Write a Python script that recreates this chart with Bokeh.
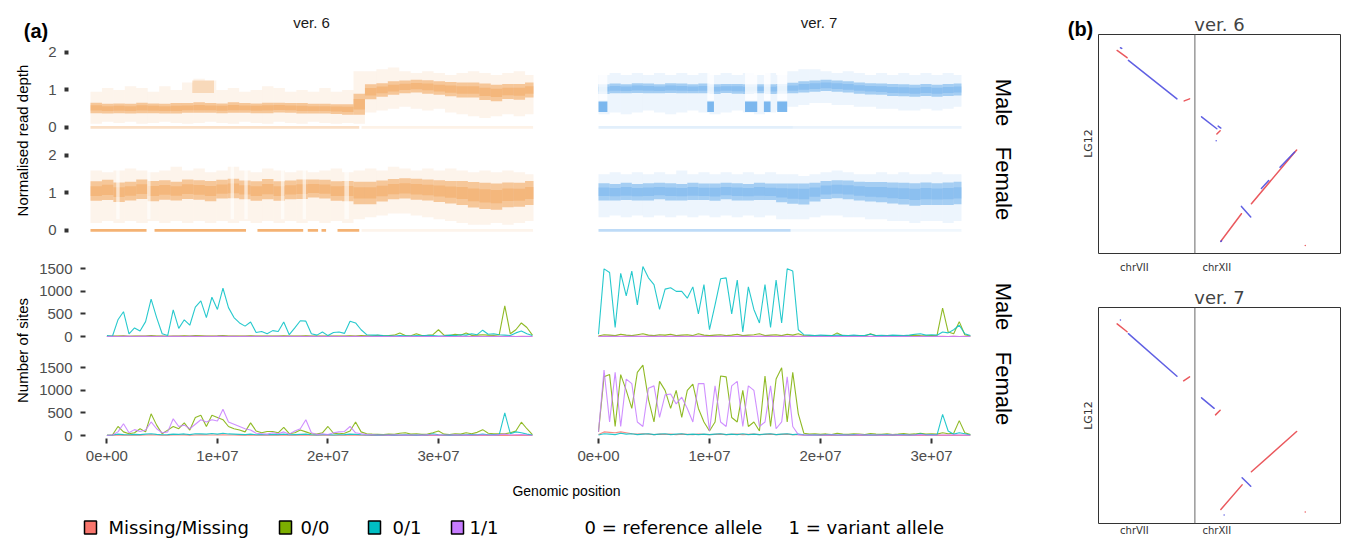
import math
from bokeh.plotting import figure
from bokeh.layouts import row, column
from bokeh.models import Range1d, FixedTicker, Span, Spacer
from bokeh.core.properties import value
from bokeh.embed import file_html
from bokeh.resources import INLINE

FONT = "Liberation Sans"
LEG_FONT = "DejaVu Sans"

# ---------------- data ----------------
WINDOW_MB = 0.5          # window size of the genotype counts
RD_BIN_MB = 1.0          # bin size of the read-depth summaries
LEN_V6 = 38.74           # chromosome length in Mb (ver. 6)
LEN_V7 = 32.7            # read-depth extent in Mb (ver. 7)

GENOTYPES = ["Missing/Missing", "0/0", "0/1", "1/1"]
GT_COLORS = ["#F8766D", "#7CAE00", "#00BFC4", "#C77CFF"]
GENOME_TICKS = [0, 10000000, 20000000, 30000000]
GENOME_TICK_LABELS = ["0e+00", "1e+07", "2e+07", "3e+07"]
DEPTH_TICKS = [0, 1, 2]
SITES_TICKS = [0, 500, 1000, 1500]

# --- number of sites, ver. 6, male (0.5 Mb windows)
m6_miss = [2,3,2,4,3,2,3,5,4,3, 2,3,4,3,5,4,3,2,4,3, 5,4,3,2,3,2,3,4,2,3, 2,3,4,3,2,3,4,2,3,2,
           3,4,3,2,3,4,3,2,3,2, 1,2,1,2,1,2,1,2,3,2, 1,2,1,2,1,2,3,2,1,2, 1,2,3,2,1,2,1,2]
m6_00 = [5,8,10,15,5,8,10,12,20,10, 8,5,12,10,15,8,20,15,10,12, 15,20,10,8,12,10,15,10,8,12,
         10,8,15,10,12,10,15,10,8,10, 12,8,10,12,15,10,20,15,10,25, 15,20,30,80,20,15,60,20,25,40,
         150,30,20,50,30,80,25,30,40,30, 25,40,680,60,150,300,200,30]
m6_01 = [20,5,370,550,60,190,120,330,830,420, 60,20,590,180,370,250,650,790,420,870,
         600,1070,640,420,300,230,320,90,110,60, 130,110,320,40,190,350,340,60,30,100,
         20,90,100,70,340,300,150,40,30,30, 20,15,10,20,15,10,20,15,25,20,
         10,15,30,20,40,30,60,40,140,50, 60,40,30,20,80,120,60,20]
m6_11 = [1,2,1,3,2,1,2,3,2,1, 2,1,3,2,1,2,3,1,2,1, 3,2,1,2,1,2,1,2,1,2, 1,2,1,2,1,2,1,2,1,2,
         1,2,1,2,1,2,1,2,1,2, 1,1,2,1,1,2,1,1,2,1, 1,2,1,1,2,1,1,2,1,1, 2,1,1,2,1,1,2,1]
# --- ver. 6, female
f6_miss = [3,5,10,8,6,12,8,10,15,10, 6,8,12,10,14,8,12,15,10,12, 10,18,12,10,8,6,8,5,6,5,
           6,5,8,5,6,8,10,5,4,5, 6,4,5,6,8,6,5,4,3,3, 2,3,2,3,2,3,2,3,4,3, 2,3,2,3,2,3,4,3,2,3,
           2,3,4,3,2,3,2,2]
f6_00 = [5,10,200,80,40,60,150,80,480,230, 40,120,200,150,280,120,400,450,200,450,
         400,350,200,150,120,80,280,100,60,90, 90,60,180,40,60,120,80,40,30,60,
         200,50,40,50,100,300,80,40,30,25, 20,30,25,50,60,30,40,25,30,60,
         100,30,20,40,30,60,40,70,130,50, 40,35,40,60,100,295,150,20]
f6_01 = [5,10,30,20,15,25,20,30,40,25, 15,20,30,25,35,20,40,35,30,45, 30,50,35,30,25,20,30,15,20,15,
         25,20,30,15,20,25,30,15,10,15, 20,10,15,20,30,25,15,10,10,8, 10,12,8,10,15,10,8,10,12,40,
         15,10,8,12,10,15,20,15,30,15, 20,20,500,40,80,60,30,10]
f6_11 = [0,10,80,260,60,130,90,120,300,150, 60,80,370,200,230,150,250,350,300,350,
         320,580,300,250,200,150,120,50,40,30, 60,40,80,30,100,150,350,60,20,40,
         20,60,80,90,200,60,40,20,15,10, 10,8,15,10,8,12,10,8,15,10,
         8,12,10,15,10,8,12,10,15,10, 8,20,30,10,15,20,10,5]
# --- ver. 7, male
m7_miss = [3,4,3,5,4,3,4,5,3,4, 3,4,5,3,4,3,4,5,3,4, 3,4,3,5,4,3,4,3,4,5, 3,4,3,4,5,3,4,3,2,2,
           2,1,2,1,2,1,2,1,2,1, 2,1,2,1,2,1,2,1,2,1, 2,1,2,1,2,1,2,1]
m7_00 = [10,40,30,20,50,30,20,40,60,30, 20,40,30,50,20,30,40,20,60,30, 20,30,40,20,30,50,20,30,40,60,
         20,30,40,20,50,30,60,20,15,10, 15,20,10,80,15,10,20,15,10,60, 15,10,20,15,10,20,15,30,20,15,
         20,25,630,100,60,330,40,10]
m7_01 = [50,1500,1420,200,1400,900,1450,700,1550,1300, 1150,600,1050,1080,1000,1000,850,1100,500,1150,
         150,700,1280,1300,500,1250,100,1100,600,300, 1150,200,1250,300,1500,1450,150,40,30,20,
         30,25,20,30,25,20,30,20,25,50, 20,25,20,30,25,20,30,50,60,30, 40,30,100,80,150,250,60,20]
m7_11 = [1,2,3,2,1,2,3,2,1,2, 3,2,1,2,3,2,1,2,3,2, 1,2,3,2,1,2,3,2,1,2, 3,2,1,2,3,2,1,2,1,1,
         2,1,1,2,1,1,2,1,1,2, 1,1,2,1,1,2,1,1,2,1, 1,2,1,1,2,1,1,2]
# --- ver. 7, female
f7_miss = [20,80,70,60,80,60,40,30,40,30, 20,30,25,30,20,30,25,20,30,25, 20,25,30,20,25,30,20,25,30,20,
           25,30,20,25,30,20,15,8,5,4, 3,4,3,4,3,4,3,4,3,4, 3,4,3,4,3,4,3,4,3,4, 3,4,3,4,3,4,3,2]
f7_00 = [80,1300,1350,200,1350,1000,600,1400,1560,800, 300,1200,1000,600,1000,400,1000,1140,600,300,
         100,300,1320,1300,400,300,1000,200,300,100, 1320,200,1250,1500,300,1400,480,50,30,40,
         25,35,20,50,30,25,40,30,20,45, 30,25,40,20,30,45,25,35,50,30, 40,30,60,40,50,330,60,20]
f7_01 = [10,40,30,20,50,30,40,20,30,40, 20,30,40,20,30,40,20,30,20,30, 20,30,40,20,30,20,40,20,30,20,
         30,40,20,30,40,20,30,15,10,15, 10,15,20,10,15,10,20,15,10,15, 10,15,20,10,15,20,10,15,40,15,
         20,15,470,100,30,60,40,10]
f7_11 = [80,1450,300,1400,200,1250,1150,300,200,1050, 1100,400,900,920,700,850,600,300,1150,1150,
         100,1100,300,200,1100,1200,200,1100,1000,200, 300,1100,150,300,1300,200,20,10,8,10,
         12,8,15,10,8,12,10,20,8,10, 12,8,10,15,8,10,12,8,20,10, 8,12,10,8,15,10,8,5]

# --- normalised read depth, 1 Mb bins: median, core half-width, sparse low, sparse high
m6_rd_mid = [0.52,0.50,0.51,0.50,0.52,0.51,0.50,0.51,0.52,0.53,0.52,0.51,0.53,0.52,0.51,0.52,0.53,0.52,0.51,0.50,
             0.50,0.49,0.48,0.62,0.95,1.00,1.05,1.08,1.10,1.08,1.05,1.02,1.00,1.00,0.95,0.92,0.96,0.95,1.00]
m6_rd_sd = [0.14,0.13,0.13,0.13,0.14,0.13,0.13,0.14,0.13,0.14,0.13,0.13,0.14,0.13,0.13,0.14,0.13,0.13,0.14,0.13,
            0.13,0.13,0.14,0.28,0.20,0.18,0.18,0.17,0.17,0.18,0.18,0.19,0.20,0.20,0.22,0.22,0.20,0.21,0.20]
m6_rd_lo = [0.10,0.15,0.12,0.15,0.10,0.12,0.15,0.12,0.10,0.12,0.15,0.12,0.10,0.15,0.12,0.10,0.15,0.12,0.10,0.15,
            0.12,0.10,0.12,0.10,0.40,0.45,0.50,0.55,0.50,0.45,0.50,0.40,0.35,0.30,0.25,0.30,0.35,0.30,0.35]
m6_rd_hi = [0.95,1.05,1.00,1.10,1.05,0.95,1.10,1.00,1.20,1.30,1.25,1.00,1.05,0.95,1.00,1.10,1.05,0.95,1.00,0.95,
            1.05,0.95,1.00,1.50,1.50,1.55,1.60,1.50,1.45,1.50,1.45,1.40,1.45,1.50,1.45,1.40,1.45,1.50,1.40]
m6_patch = {"start": [8.9], "end": [10.8], "lo": [0.92], "hi": [1.25]}
m6_zero = {"start": [0.0, 23.7], "end": [23.5, 38.7], "dens": [0.35, 0.15]}

f6_rd_mid = [1.05,1.08,1.02,1.05,1.10,1.05,1.08,1.05,1.10,1.08,1.05,1.10,1.12,1.08,1.05,1.10,1.05,1.08,1.10,1.12,
             1.10,1.05,1.05,1.00,1.00,1.05,1.10,1.12,1.10,1.08,1.05,1.02,1.00,0.95,0.92,0.90,0.95,0.95,1.00]
f6_rd_sd = [0.26,0.27,0.26,0.25,0.26,0.27,0.26,0.25,0.26,0.26,0.27,0.25,0.26,0.25,0.26,0.27,0.26,0.25,0.26,0.24,
            0.25,0.26,0.27,0.30,0.30,0.28,0.27,0.27,0.28,0.28,0.29,0.30,0.32,0.34,0.35,0.35,0.33,0.32,0.32]
f6_rd_lo = [0.20,0.25,0.20,0.25,0.20,0.25,0.20,0.25,0.20,0.25,0.20,0.25,0.20,0.25,0.20,0.25,0.20,0.25,0.20,0.25,
            0.20,0.25,0.20,0.30,0.35,0.40,0.45,0.45,0.40,0.35,0.30,0.25,0.20,0.15,0.15,0.20,0.15,0.20,0.25]
f6_rd_hi = [1.60,1.55,1.60,1.65,1.60,1.55,1.60,1.70,1.60,1.65,1.55,1.60,1.70,1.60,1.55,1.65,1.60,1.55,1.60,1.55,
            1.60,1.65,1.55,1.60,1.65,1.60,1.70,1.65,1.60,1.65,1.60,1.65,1.60,1.55,1.60,1.55,1.60,1.55,1.50]
f6_gaps = {"start": [2.25, 4.95, 12.25, 13.45, 16.65, 18.55, 22.2], "end": [2.55, 5.25, 12.55, 13.75, 16.95, 18.85, 22.6]}
f6_zero = {"start": [0.0, 5.6, 14.6, 19.0, 20.2, 21.6, 23.7], "end": [4.9, 13.6, 18.6, 19.9, 20.6, 23.5, 38.7],
           "dens": [0.85, 0.85, 0.85, 0.85, 0.85, 0.85, 0.12]}

m7_rd_mid = [1.02,1.04,1.03,1.05,1.04,1.03,1.05,1.04,1.03,1.04,1.02,1.04,1.03,1.02,1.03,1.02,1.03,1.05,1.08,1.10,
             1.12,1.10,1.08,1.05,1.03,1.02,1.00,0.99,0.98,1.00,0.98,1.00,1.01]
m7_rd_sd = [0.13,0.13,0.12,0.13,0.13,0.12,0.13,0.13,0.12,0.13,0.13,0.12,0.13,0.13,0.12,0.13,0.13,0.14,0.15,0.15,
            0.15,0.15,0.15,0.15,0.15,0.15,0.16,0.16,0.16,0.16,0.16,0.16,0.16]
m7_rd_lo = [0.35,0.40,0.35,0.40,0.45,0.40,0.35,0.40,0.45,0.40,0.35,0.40,0.45,0.40,0.35,0.40,0.45,0.55,0.60,0.65,
            0.65,0.60,0.60,0.55,0.55,0.50,0.50,0.45,0.45,0.50,0.45,0.50,0.55]
m7_rd_hi = [1.40,1.45,1.40,1.45,1.40,1.45,1.40,1.45,1.40,1.45,1.40,1.45,1.40,1.45,1.40,1.45,1.40,1.50,1.55,1.55,
            1.50,1.45,1.50,1.45,1.40,1.45,1.40,1.45,1.40,1.45,1.40,1.45,1.40]
m7_low = {"start": [0.0, 9.8, 13.2, 14.9, 16.1], "end": [0.8, 10.4, 14.3, 15.5, 17.0], "mid": [0.55, 0.55, 0.55, 0.55, 0.55]}
m7_zero = {"start": [0.0, 17.5], "end": [17.5, 32.7], "dens": [0.2, 0.15]}

f7_rd_mid = [1.03,1.02,1.04,1.02,1.03,1.05,1.03,1.02,1.04,1.03,1.02,1.05,1.03,1.02,1.04,1.03,1.00,0.98,0.97,1.02,
             1.08,1.10,1.08,1.05,1.03,1.02,1.00,0.98,0.96,0.98,0.97,0.98,1.00]
f7_rd_sd = [0.23,0.22,0.23,0.22,0.23,0.22,0.23,0.22,0.23,0.22,0.23,0.22,0.23,0.22,0.23,0.22,0.25,0.27,0.28,0.25,
            0.24,0.24,0.25,0.25,0.26,0.27,0.28,0.29,0.30,0.30,0.29,0.30,0.30]
f7_rd_lo = [0.35,0.40,0.35,0.40,0.35,0.40,0.35,0.40,0.35,0.40,0.35,0.40,0.35,0.40,0.35,0.40,0.30,0.30,0.30,0.35,
            0.40,0.40,0.35,0.35,0.30,0.30,0.25,0.25,0.20,0.25,0.25,0.20,0.25]
f7_rd_hi = [1.50,1.55,1.50,1.55,1.50,1.55,1.50,1.60,1.50,1.55,1.50,1.55,1.50,1.55,1.50,1.55,1.50,1.50,1.45,1.50,
            1.55,1.60,1.55,1.50,1.50,1.55,1.50,1.55,1.50,1.50,1.55,1.50,1.50]
f7_zero = {"start": [0.0, 17.3], "end": [17.3, 32.7], "dens": [0.45, 0.1]}

# --- panel (b): alignment blocks (x: chrVII+chrXII in Mb, y: LG12 in Mb)
CHRVII_END = 14.5
CHR_TOTAL = 36.4
LG12_LEN = 33.0
CHROM_LABEL_POS = [5.4, 17.8]
CHROM_LABELS = ["chrVII", "chrXII"]
B_COLORS = {"+": "#E8474C", "-": "#4F4FE0"}
v6_blocks = {
    "x0": [2.8, 3.3, 4.5, 12.9, 15.5, 17.8, 18.0, 17.7, 18.4, 21.5, 23.0, 24.5, 27.3, 31.1, 18.4],
    "y0": [30.6, 31.0, 29.1, 23.0, 20.6, 18.0, 19.2, 17.0, 1.85, 7.1, 7.5, 9.8, 13.0, 1.2, 1.8],
    "x1": [4.3, 3.5, 11.8, 13.7, 17.8, 18.3, 18.4, 17.7, 21.5, 22.9, 29.8, 25.6, 29.5, 31.1, 18.5],
    "y1": [29.5, 30.9, 23.3, 23.3, 18.8, 18.5, 18.9, 17.0, 6.0, 5.5, 15.6, 11.0, 15.3, 1.2, 1.9],
    "strand": ["+", "-", "-", "+", "-", "+", "-", "-", "+", "-", "+", "-", "-", "+", "-"],
}
v7_blocks = {
    "x0": [2.8, 3.3, 4.5, 12.8, 15.5, 17.6, 18.4, 21.6, 23.0, 31.1, 18.9],
    "y0": [30.5, 31.1, 29.0, 21.8, 19.2, 16.6, 2.15, 7.0, 7.9, 1.75, 1.3],
    "x1": [4.3, 3.3, 11.8, 13.7, 17.4, 18.3, 21.6, 22.9, 29.8, 31.1, 18.9],
    "y1": [29.3, 31.1, 22.5, 22.4, 17.6, 17.3, 5.9, 5.7, 14.05, 1.75, 1.3],
    "strand": ["+", "-", "-", "+", "-", "+", "+", "-", "+", "+", "-"],
}

ORANGE = "#F09A48"
BLUE = "#5EA7EA"
MB = 1e6


# ---------------- helpers ----------------
def plain(p):
    p.xgrid.visible = False
    p.ygrid.visible = False
    p.outline_line_color = None
    p.background_fill_color = "white"
    p.border_fill_color = "white"
    return p


def text_fig(w, h):
    p = figure(width=w, height=h, x_range=Range1d(0, w), y_range=Range1d(h, 0),
               min_border_left=0, min_border_right=0, min_border_top=0, min_border_bottom=0,
               x_axis_location=None, y_axis_location=None,
               toolbar_location=None, output_backend="svg")
    return plain(p)


def add_text(p, x, y, t, size, angle=0.0, bold=False, font=FONT, color="#000000", align="center"):
    p.text(x=[x], y=[y], text=[t], angle=angle, text_font=value(font), text_font_size=size,
           text_align=align, text_baseline="middle", text_color=color,
           text_font_style="bold" if bold else "normal")


def style_y(p, ticks, tick_out, tick_w):
    ax = p.yaxis[0]
    ax.ticker = FixedTicker(ticks=ticks)
    ax.axis_line_color = None
    ax.major_tick_in = 0
    ax.major_tick_out = tick_out
    ax.major_tick_line_width = tick_w
    ax.major_tick_line_color = "#333333"
    ax.minor_tick_line_color = None
    ax.major_label_text_font = FONT
    ax.major_label_text_font_size = "15px"
    ax.major_label_text_color = "#4D4D4D"
    ax.major_label_standoff = 8


def style_x(p):
    ax = p.xaxis[0]
    ax.ticker = FixedTicker(ticks=GENOME_TICKS)
    ax.major_label_overrides = {t: l for t, l in zip(GENOME_TICKS, GENOME_TICK_LABELS)}
    ax.axis_line_color = None
    ax.major_tick_in = 0
    ax.major_tick_out = 5
    ax.major_tick_line_width = 2
    ax.major_tick_line_color = "#333333"
    ax.minor_tick_line_color = None
    ax.major_label_text_font = FONT
    ax.major_label_text_font_size = "15px"
    ax.major_label_text_color = "#4D4D4D"
    ax.major_label_standoff = 7


def depth_fig(w, h, bt, bb, bl, br, xr, color, mid, sd, lo, hi, length, zero, show_y,
              gaps=None, patch=None, low=None):
    p = figure(width=w, height=h, x_range=Range1d(*xr), y_range=Range1d(-0.19, 2.21),
               min_border_top=bt, min_border_bottom=bb, min_border_left=bl, min_border_right=br,
               x_axis_location=None, y_axis_location="left" if show_y else None,
               toolbar_location=None, output_backend="svg")
    plain(p)
    n = len(mid)
    left = [i * RD_BIN_MB * MB for i in range(n)]
    right = [min((i + 1) * RD_BIN_MB, length) * MB for i in range(n)]
    p.quad(left=left, right=right, bottom=lo, top=hi, fill_color=color, fill_alpha=0.11, line_color=None)
    p.quad(left=left, right=right, bottom=[m - s for m, s in zip(mid, sd)], top=[m + s for m, s in zip(mid, sd)],
           fill_color=color, fill_alpha=0.5, line_color=None)
    p.quad(left=left, right=right, bottom=[m - 0.5 * s for m, s in zip(mid, sd)],
           top=[m + 0.5 * s for m, s in zip(mid, sd)], fill_color=color, fill_alpha=0.35, line_color=None)
    if patch:
        p.quad(left=[s * MB for s in patch["start"]], right=[e * MB for e in patch["end"]],
               bottom=patch["lo"], top=patch["hi"], fill_color=color, fill_alpha=0.3, line_color=None)
    if low:
        ls = [s * MB for s in low["start"]]
        le = [e * MB for e in low["end"]]
        p.quad(left=ls, right=le, bottom=[0.72] * len(ls), top=[1.6] * len(ls),
               fill_color="white", fill_alpha=0.8, line_color=None)
        p.quad(left=ls, right=le, bottom=[m - 0.14 for m in low["mid"]], top=[m + 0.14 for m in low["mid"]],
               fill_color=color, fill_alpha=0.8, line_color=None)
    p.quad(left=[s * MB for s in zero["start"]], right=[e * MB for e in zero["end"]],
           bottom=[-0.035] * len(zero["start"]), top=[0.035] * len(zero["start"]),
           fill_color=color, fill_alpha=[d * 0.9 for d in zero["dens"]], line_color=None)
    if gaps:
        p.quad(left=[s * MB for s in gaps["start"]], right=[e * MB for e in gaps["end"]],
               bottom=[0.3] * len(gaps["start"]), top=[1.75] * len(gaps["start"]),
               fill_color="white", fill_alpha=0.6, line_color=None)
    if show_y:
        style_y(p, DEPTH_TICKS, 4, 4)
    return p


def sites_fig(w, h, bt, bb, bl, br, xr, series, show_y, show_x):
    p = figure(width=w, height=h, x_range=Range1d(*xr), y_range=Range1d(-66.5, 1707),
               min_border_top=bt, min_border_bottom=bb, min_border_left=bl, min_border_right=br,
               x_axis_location="below" if show_x else None, y_axis_location="left" if show_y else None,
               toolbar_location=None, output_backend="svg")
    plain(p)
    for vals, col in zip(series, GT_COLORS):
        xs = [i * WINDOW_MB * MB for i in range(len(vals))]
        p.line(xs, vals, line_color=col, line_width=1.1, line_alpha=0.85)
    if show_y:
        style_y(p, SITES_TICKS, 5, 2)
    if show_x:
        style_x(p)
    return p


def dot_fig(title, h, bt, bb, blocks):
    p = figure(width=243, height=h, x_range=Range1d(0, CHR_TOTAL), y_range=Range1d(0, LG12_LEN),
               min_border_top=bt, min_border_bottom=bb, min_border_left=0, min_border_right=1,
               title=title, y_axis_location=None, toolbar_location=None, output_backend="svg")
    p.xgrid.visible = False
    p.ygrid.visible = False
    p.outline_line_color = "#333333"
    p.outline_line_width = 1
    p.title.text_font = LEG_FONT
    p.title.text_font_size = "18px"
    p.title.text_font_style = "normal"
    p.title.align = "center"
    p.title.standoff = 0
    p.add_layout(Span(location=CHRVII_END, dimension="height", line_color="#666666", line_width=1))
    cols = [B_COLORS[s] for s in blocks["strand"]]
    p.segment(x0=blocks["x0"], y0=blocks["y0"], x1=blocks["x1"], y1=blocks["y1"],
              line_color=cols, line_width=1.5, line_alpha=0.9, line_cap="round")
    ax = p.xaxis[0]
    ax.ticker = FixedTicker(ticks=CHROM_LABEL_POS)
    ax.major_label_overrides = {t: l for t, l in zip(CHROM_LABEL_POS, CHROM_LABELS)}
    ax.axis_line_color = None
    ax.major_tick_in = 0
    ax.major_tick_out = 0
    ax.minor_tick_line_color = None
    ax.major_label_text_font = LEG_FONT
    ax.major_label_text_font_size = "10px"
    ax.major_label_text_color = "#333333"
    ax.major_label_standoff = 8 if bb > 20 else 1
    return p


# ---------------- panel (a) ----------------
XR6_RD = (-1.924 * MB, 40.05 * MB)
XR6_LN = (-1.937 * MB, 39.955 * MB)
XR7 = (-3.423 * MB, 35.315 * MB)

r1a = depth_fig(524, 96, 0, 6, 32, 12, XR6_RD, ORANGE, m6_rd_mid, m6_rd_sd, m6_rd_lo, m6_rd_hi, LEN_V6,
                m6_zero, True, patch=m6_patch)
r1b = depth_fig(430, 96, 0, 6, 0, 0, XR7, BLUE, m7_rd_mid, m7_rd_sd, m7_rd_lo, m7_rd_hi, LEN_V7,
                m7_zero, False, low=m7_low)
r2a = depth_fig(524, 104, 7, 7, 32, 12, XR6_RD, ORANGE, f6_rd_mid, f6_rd_sd, f6_rd_lo, f6_rd_hi, LEN_V6,
                f6_zero, True, gaps=f6_gaps)
r2b = depth_fig(430, 104, 7, 7, 0, 0, XR7, BLUE, f7_rd_mid, f7_rd_sd, f7_rd_lo, f7_rd_hi, LEN_V7,
                f7_zero, False)
r3a = sites_fig(524, 104, 15, 9, 47, 12, XR6_LN, [m6_miss, m6_00, m6_01, m6_11], True, False)
r3b = sites_fig(430, 104, 15, 9, 0, 0, XR7, [m7_miss, m7_00, m7_01, m7_11], False, False)
r4a = sites_fig(524, 132, 10, 42, 47, 12, XR6_LN, [f6_miss, f6_00, f6_01, f6_11], True, True)
r4b = sites_fig(430, 132, 10, 42, 0, 0, XR7, [f7_miss, f7_00, f7_01, f7_11], False, True)

# header
H = text_fig(982, 36)
add_text(H, 27.5, 22, "(a)", "20px", bold=True)
add_text(H, 303, 14, "ver. 6", "15px", color="#1A1A1A")
add_text(H, 810.5, 14, "ver. 7", "15px", color="#1A1A1A")

# left axis titles
L = text_fig(28, 436)
add_text(L, 13.5, 96, "Normalised read depth", "15px", angle=math.pi / 2)
add_text(L, 13.5, 306, "Number of sites", "15px", angle=math.pi / 2)

# footer: x title + legend
F = text_fig(982, 58)
add_text(F, 558, 10, "Genomic position", "14px")
F.rect(x=[82, 277, 366, 449], y=[47] * 4, width=12, height=13, fill_color=GT_COLORS,
       line_color="black", line_width=1.5)
for xx, lab in zip([100, 292, 384, 461], GENOTYPES):
    add_text(F, xx, 47, lab, "18px", font=LEG_FONT, align="left")
add_text(F, 576, 47, "0 = reference allele", "18px", font=LEG_FONT, align="left")
add_text(F, 780, 47, "1 = variant allele", "18px", font=LEG_FONT, align="left")

# right: facet strips, (b), LG12
R = text_fig(108, 530)
for yy, lab in zip([94, 175, 298, 380], ["Male", "Female", "Male", "Female"]):
    add_text(R, 13, yy, lab, "22px", angle=-math.pi / 2)
add_text(R, 90, 20, "(b)", "20px", bold=True)
add_text(R, 98, 135, "LG12", "11px", angle=math.pi / 2, font=LEG_FONT, color="#333333")
add_text(R, 98, 407, "LG12", "11px", angle=math.pi / 2, font=LEG_FONT, color="#333333")

# ---------------- panel (b) ----------------
b6 = dot_fig("ver. 6", 270, 26, 25, v6_blocks)
b7 = dot_fig("ver. 7", 260, 29, 14, v7_blocks)

grid = column(row(r1a, r1b), row(r2a, r2b), row(r3a, r3b), row(r4a, r4b))
left_block = column(H, row(L, grid), F)
content = row(left_block, R, column(b6, b7))
layout = column(Spacer(width=1341, height=8), row(Spacer(width=8, height=530), content))

open("out.html", "w").write(file_html(layout, INLINE))
